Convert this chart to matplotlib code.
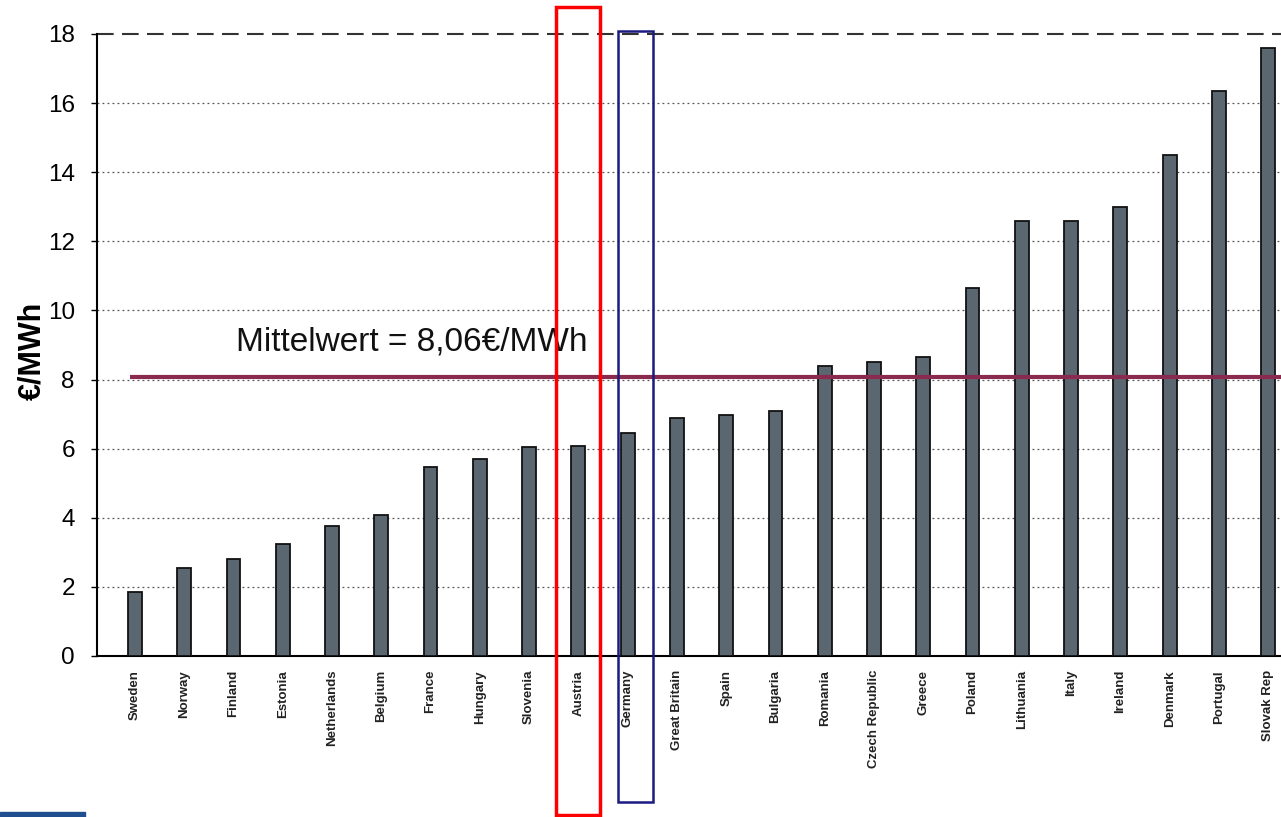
import matplotlib
matplotlib.use("Agg")
import matplotlib.pyplot as plt
from matplotlib.patches import Rectangle
import matplotlib.transforms as mtransforms

countries = ["Sweden", "Norway", "Finland", "Estonia", "Netherlands", "Belgium",
             "France", "Hungary", "Slovenia", "Austria", "Germany", "Great Britain",
             "Spain", "Bulgaria", "Romania", "Czech Republic", "Greece", "Poland",
             "Lithuania", "Italy", "Ireland", "Denmark", "Portugal", "Slovak Rep"]
values = [1.85, 2.55, 2.8, 3.25, 3.75, 4.07, 5.46, 5.7, 6.04, 6.07, 6.45, 6.9,
          6.97, 7.1, 8.4, 8.5, 8.65, 10.66, 12.6, 12.6, 13.0, 14.5, 16.35, 17.6]
mean_value = 8.06
mean_label = "Mittelwert = 8,06€/MWh"
yticks = [0, 2, 4, 6, 8, 10, 12, 14, 16, 18]

plt.rcParams['font.family'] = ['Liberation Sans', 'DejaVu Sans']

fig = plt.figure(figsize=(12.81, 8.17), dpi=100)
ax = fig.add_axes([97/1281, (817-656)/817, 1 - 97/1281, (656-34)/817])

x = list(range(len(countries)))
ax.bar(x, values, width=0.28, color="#5b6770", edgecolor="#111111", linewidth=1.3, zorder=3)

ax.set_xlim(-0.77, 23.26)
ax.set_ylim(0, 18)
ax.set_yticks(yticks)
ax.set_yticklabels([str(t) for t in yticks], fontsize=17.5)
ax.set_xticks(x)
ax.set_xticklabels(countries, rotation=90, fontsize=9.5, fontweight="bold", color="#222222")
ax.tick_params(axis="y", length=4, width=1, pad=12)
ax.tick_params(axis="x", length=0, pad=10)

for t in yticks[1:-1]:
    ax.axhline(t, color="#555555", linestyle=(0, (1.5, 2.5)), linewidth=0.9, zorder=1)
ax.axhline(18, color="#333333", linestyle=(0, (8, 4)), linewidth=1.5, zorder=1, clip_on=False)

for s in ["top", "right"]:
    ax.spines[s].set_visible(False)
ax.spines["left"].set_linewidth(1.5)
ax.spines["bottom"].set_linewidth(1.5)

ax.hlines(mean_value, -0.1, 23.26, color="#8a2a4e", linewidth=3, zorder=4)
ax.text(2.05, 8.85, mean_label, fontsize=24, color="#111111", va="baseline", zorder=5)

ax.set_ylabel("€/MWh", fontsize=22, fontweight="bold")
ax.yaxis.set_label_coords(-0.042, 0.49)

trans = mtransforms.blended_transform_factory(ax.transData, ax.transAxes)
ax.add_patch(Rectangle((8.55, -0.255), 0.89, 1.298, transform=trans, fill=False,
                       edgecolor="#ff0000", linewidth=2.5, clip_on=False, zorder=6))
ax.add_patch(Rectangle((9.8, -0.235), 0.72, 1.24, transform=trans, fill=False,
                       edgecolor="#1a1a80", linewidth=1.8, clip_on=False, zorder=6))

fig.patches.append(Rectangle((0, 0), 85/1281, 5/817, transform=fig.transFigure,
                             color="#1f4f8f", zorder=0))

fig.savefig("out.png", dpi=100, facecolor="white")
